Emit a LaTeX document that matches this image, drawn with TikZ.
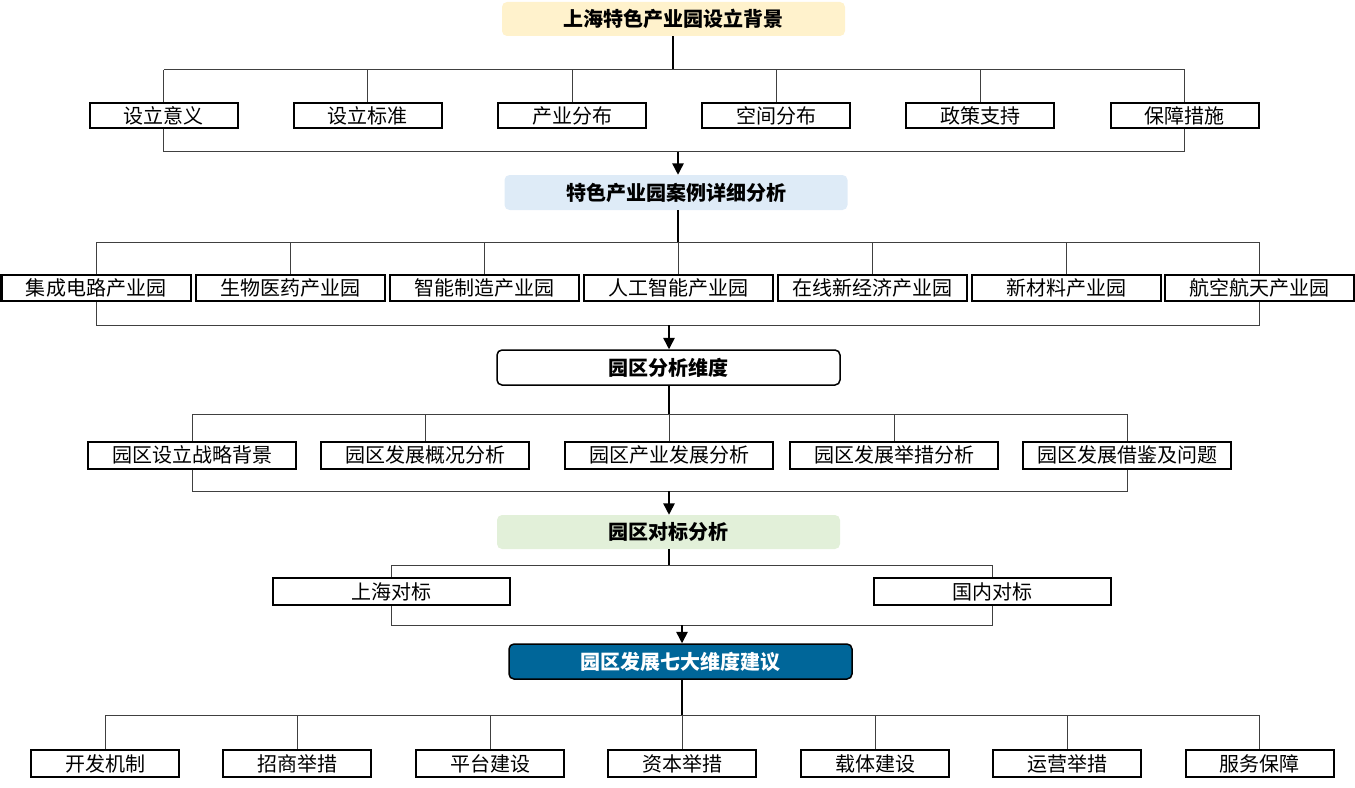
\documentclass[tikz,border=0pt]{standalone}
\usepackage{fontspec}
\setmainfont{Noto Sans CJK SC}
\usetikzlibrary{arrows.meta}
\definecolor{hyel}{HTML}{FFF2CC}
\definecolor{hblu}{HTML}{DEEBF7}
\definecolor{hgrn}{HTML}{E2F0D9}
\definecolor{hdark}{HTML}{006699}
\definecolor{brc}{HTML}{404040}
\newdimen\px \px=0.75pt
\begin{document}
\begin{tikzpicture}[x=0.75pt,y=-0.75pt,
 hdr/.style={rounded corners=5\px, minimum width=343\px, minimum height=34\px, inner sep=0pt, font=\fontsize{15}{18}\selectfont\bfseries},
 item/.style={draw=black, line width=2\px, fill=white, minimum height=25\px, inner sep=0pt, font=\fontsize{15}{18}\selectfont},
 br/.style={draw=brc, line width=1\px},
 stem/.style={draw=black, line width=1.5\px},
 arr/.style={draw=black, line width=1.5\px, -{Triangle[length=8.5pt,width=8.5pt]}}]
\useasboundingbox (0,0) rectangle (1355,788);

% headers
\node[hdr, fill=hyel] (h0) at (673.5,19) {上海特色产业园设立背景};
\node[hdr, fill=hblu, minimum height=35\px] (h1) at (676,192.5) {特色产业园案例详细分析};
\node[hdr, fill=white, draw=black, line width=1.5\px, minimum height=35\px] (h2) at (668.5,367.5) {园区分析维度};
\node[hdr, fill=hgrn] (h3) at (668.5,532) {园区对标分析};
\node[hdr, fill=hdark, draw=black, line width=1.5\px, text=white, minimum height=35\px] (h4) at (680.5,661.5) {园区发展七大维度建议};

% row 1
\foreach \n/\x/\t in {1/163.5/设立意义, 2/367.5/设立标准, 3/572/产业分布, 4/776/空间分布, 5/980/政策支持, 6/1184.5/保障措施}
  \node[item, minimum width=148\px] (a\n) at (\x,115.5) {\t};
% row 2
\foreach \n/\x/\t in {1/96/集成电路产业园, 2/290/生物医药产业园, 3/484/智能制造产业园, 4/678/人工智能产业园, 5/872/在线新经济产业园, 6/1066/新材料产业园, 7/1259.5/航空航天产业园}
  \node[item, minimum width=189\px, minimum height=26\px] (b\n) at (\x,287.5) {\t};
% row 3
\foreach \n/\x/\t in {1/192/园区设立战略背景, 2/425/园区发展概况分析, 3/669/园区产业发展分析, 4/894/园区发展举措分析, 5/1127/园区发展借鉴及问题}
  \node[item, minimum width=208\px, minimum height=27\px] (c\n) at (\x,455) {\t};
% row 4
\node[item, minimum width=237\px, minimum height=27\px] (d1) at (391,591.5) {上海对标};
\node[item, minimum width=237\px, minimum height=27\px] (d2) at (992.5,591.5) {国内对标};
% row 5
\foreach \n/\x/\t in {1/105/开发机制, 2/297/招商举措, 3/490/平台建设, 4/682/资本举措, 5/875/载体建设, 6/1067/运营举措, 7/1259.5/服务保障}
  \node[item, minimum width=148\px, minimum height=27\px] (e\n) at (\x,763.5) {\t};

% connectors level 0
\coordinate (t0) at (673,70);
\coordinate (u0) at (678,152);
\draw[stem] (h0.south -| t0) -- (t0);
\draw[br] (a1.north |- t0) -- (a6.north |- t0);
\foreach \n in {1,...,6} \draw[br] (a\n.north) -- (a\n.north |- t0);
\draw[br] (a1.south) -- (a1.south |- u0) -- (a6.south |- u0) -- (a6.south);
\draw[arr] (u0) -- (u0 |- h1.north);

% level 1
\coordinate (t1) at (678,242);
\coordinate (u1) at (669,325);
\draw[stem] (h1.south -| t1) -- (t1);
\draw[br] (b1.north |- t1) -- (b7.north |- t1);
\foreach \n in {1,...,7} \draw[br] (b\n.north) -- (b\n.north |- t1);
\draw[br] (b1.south) -- (b1.south |- u1) -- (b7.south |- u1) -- (b7.south);
\draw[arr] (u1) -- (u1 |- h2.north);

% level 2
\coordinate (t2) at (669,414);
\coordinate (u2) at (669,491);
\draw[stem] (h2.south -| t2) -- (t2);
\draw[br] (c1.north |- t2) -- (c5.north |- t2);
\foreach \n in {1,...,5} \draw[br] (c\n.north) -- (c\n.north |- t2);
\draw[br] (c1.south) -- (c1.south |- u2) -- (c5.south |- u2) -- (c5.south);
\draw[arr] (u2) -- (u2 |- h3.north);

% level 3
\coordinate (t3) at (669,565);
\coordinate (u3) at (682,625);
\draw[stem] (h3.south -| t3) -- (t3);
\draw[br] (d1.north |- t3) -- (d2.north |- t3);
\foreach \n in {1,2} \draw[br] (d\n.north) -- (d\n.north |- t3);
\draw[br] (d1.south) -- (d1.south |- u3) -- (d2.south |- u3) -- (d2.south);
\draw[arr] (u3) -- (u3 |- h4.north);

% level 4
\coordinate (t4) at (682,715);
\draw[stem] (h4.south -| t4) -- (t4);
\draw[br] (e1.north |- t4) -- (e7.north |- t4);
\foreach \n in {1,...,7} \draw[br] (e\n.north) -- (e\n.north |- t4);
\end{tikzpicture}
\end{document}
